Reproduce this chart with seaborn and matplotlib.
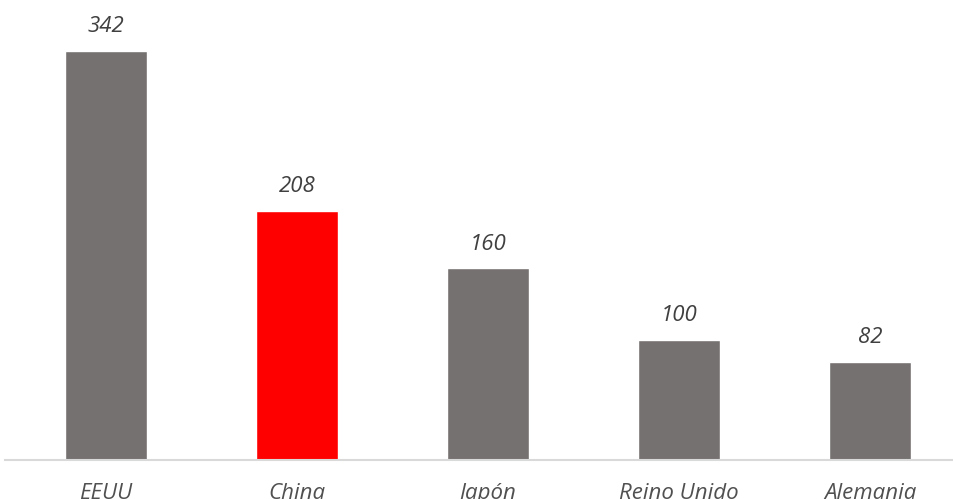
import matplotlib
matplotlib.use("Agg")
import matplotlib.pyplot as plt
import seaborn as sns
import pandas as pd

countries = ["EEUU", "China", "Japón", "Reino Unido", "Alemania"]
values = [342, 208, 160, 100, 82]
colors = ["#767171", "#FF0000", "#767171", "#767171", "#767171"]

sns.set_style("white")
plt.rcParams["font.family"] = ["Open Sans", "DejaVu Sans"]

df = pd.DataFrame({"pais": countries, "valor": values})

fig = plt.figure(figsize=(9.54, 4.99), dpi=100)
ax = fig.add_axes([5 / 954, 39.5 / 499, 949 / 954, 459.5 / 499])

sns.barplot(data=df, x="pais", y="valor", hue="pais", palette=colors,
            width=0.425, saturation=1, legend=False, ax=ax)

ax.set_xlim(-0.529, 4.44)
ax.set_ylim(0, 384.5)

for i, v in enumerate(values):
    ax.annotate(f"{v}", (i, v), xytext=(0, 13.5), textcoords="offset points",
                ha="center", va="baseline", fontsize=16, style="italic",
                color="#404040")

for side in ["left", "right", "top"]:
    ax.spines[side].set_visible(False)
ax.spines["bottom"].set_color("#D9D9D9")
ax.spines["bottom"].set_linewidth(1.5)

ax.set_yticks([])
ax.set_xlabel("")
ax.set_ylabel("")
ax.tick_params(axis="x", length=0, pad=17, labelsize=16, labelcolor="#505050")
for lab in ax.get_xticklabels():
    lab.set_fontstyle("italic")

fig.savefig("out.png", dpi=100)
